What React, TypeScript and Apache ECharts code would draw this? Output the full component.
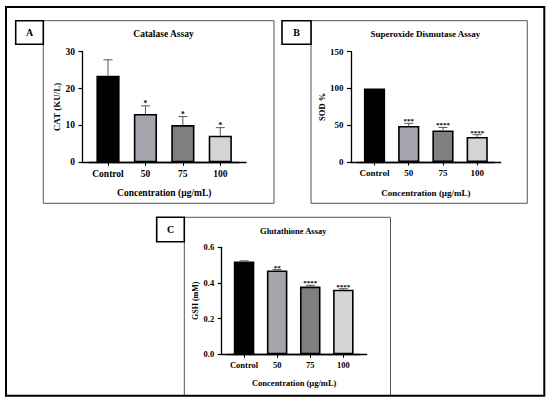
import React, { useEffect, useRef } from "react";
import * as echarts from "echarts";

// ---- data ----
const categories = ["Control", "50", "75", "100"];

const catMean = [23.5, 13.1, 10.1, 7.2];
const catErr = [4.3, 2.2, 2.3, 2.2];
const catStars = ["", "*", "*", "*"];

const sodMean = [100, 49, 43, 34];
const sodErr = [0, 3.6, 4.0, 3.2];
const sodStars = ["", "***", "****", "****"];

const gshMean = [0.52, 0.47, 0.38, 0.362];
const gshErr = [0.004, 0.005, 0.007, 0.006];
const gshStars = ["", "**", "****", "****"];

const catTicks = { min: 0, max: 30, interval: 10 };
const sodTicks = { min: 0, max: 150, interval: 50 };
const gshTicks = { min: 0, max: 0.6, interval: 0.2 };

const titles = ["Catalase Assay", "Superoxide Dismutase Assay", "Glutathione Assay"];
const yNames = ["CAT (KU/L)", "SOD %", "GSH (mM)"];
const xName = "Concentration (\u00b5g/mL)";
const panelLetters = ["A", "B", "C"];

// ---- styles ----
const FONT = "'Liberation Serif', 'Times New Roman', serif";
const barColors = ["#000000", "#a4a4ac", "#7f7f7f", "#d4d4d4"];

const layouts = [
  {
    frame: { left: 82.5, top: 51.7, width: 163.5, height: 110.6 },
    bars: { left: 89.3, width: 149.7 },
    fs: 9.5, starFs: 7.5, yNameGap: 20, xNameGap: 26, labelMargin: 6.5,
    title: { x: 163.5, y: 34 },
    box: { x: 43.3, y: 20.7, w: 230.7, h: 182.6 },
    label: { x: 15.7, y: 20.7, w: 27.6, h: 23.6 },
  },
  {
    frame: { left: 351, top: 51.7, width: 149.7, height: 110.3 },
    bars: { left: 357.4, width: 136.9 },
    fs: 9, starFs: 7, yNameGap: 20, xNameGap: 26, labelMargin: 6.5,
    title: { x: 425.3, y: 34 },
    box: { x: 311, y: 20.7, w: 216.3, h: 182.6 },
    label: { x: 282, y: 20.7, w: 29, h: 23.6 },
  },
  {
    frame: { left: 221.7, top: 247.3, width: 145, height: 107.0 },
    bars: { left: 227.5, width: 132.4 },
    fs: 8.5, starFs: 7, yNameGap: 20, xNameGap: 24.5, labelMargin: 6.5,
    title: { x: 293.3, y: 230.5 },
    box: { x: 184.3, y: 217.3, w: 206.2, h: 178.4 },
    label: { x: 156.7, y: 217.3, w: 27.6, h: 24.4 },
  },
];

const panelData = [
  { mean: catMean, err: catErr, stars: catStars, ticks: catTicks, fmt: (v: number) => String(v) },
  { mean: sodMean, err: sodErr, stars: sodStars, ticks: sodTicks, fmt: (v: number) => String(v) },
  { mean: gshMean, err: gshErr, stars: gshStars, ticks: gshTicks, fmt: (v: number) => v.toFixed(1) },
];

function buildOption() {
  const grid: any[] = [];
  const xAxis: any[] = [];
  const yAxis: any[] = [];
  const series: any[] = [];
  const graphic: any[] = [];

  graphic.push({
    type: "rect",
    shape: { x: 6, y: 7, width: 538.3, height: 388.7 },
    style: { fill: "none", stroke: "#000", lineWidth: 2 },
    z: 10,
  });

  layouts.forEach((L, k) => {
    const D = panelData[k];
    const fi = 2 * k;
    const bi = 2 * k + 1;
    grid.push({ left: L.frame.left, top: L.frame.top, width: L.frame.width, height: L.frame.height });
    grid.push({ left: L.bars.left, top: L.frame.top, width: L.bars.width, height: L.frame.height });

    xAxis.push({
      gridIndex: fi,
      type: "value",
      min: 0,
      max: 1,
      axisLine: { show: true, lineStyle: { color: "#000", width: 1.3 } },
      axisTick: { show: false },
      axisLabel: { show: false },
      splitLine: { show: false },
      name: xName,
      nameLocation: "middle",
      nameGap: L.xNameGap,
      nameTextStyle: { fontFamily: FONT, fontWeight: "bold", fontSize: L.fs, color: "#000" },
    });
    xAxis.push({
      gridIndex: bi,
      type: "category",
      data: categories,
      axisLine: { show: true, lineStyle: { color: "#000", width: 1.3 } },
      axisTick: { show: true, interval: 0, alignWithLabel: true, length: 3.5, lineStyle: { color: "#000", width: 1 } },
      axisLabel: {
        interval: 0, hideOverlap: false,
        fontFamily: FONT, fontWeight: "bold", fontSize: L.fs, color: "#000", margin: L.labelMargin,
      },
      splitLine: { show: false },
    });

    yAxis.push({
      gridIndex: fi,
      type: "value",
      min: D.ticks.min,
      max: D.ticks.max,
      interval: D.ticks.interval,
      axisLine: { show: true, lineStyle: { color: "#000", width: 1.3 } },
      axisTick: { show: true, length: 4, lineStyle: { color: "#000", width: 1.2 } },
      axisLabel: {
        fontFamily: FONT, fontWeight: "bold", fontSize: L.fs, color: "#000", margin: 7.5,
        formatter: D.fmt,
      },
      splitLine: { show: false },
      name: yNames[k],
      nameLocation: "middle",
      nameRotate: 90,
      nameGap: L.yNameGap,
      nameTextStyle: { fontFamily: FONT, fontWeight: "bold", fontSize: L.fs - 0.5, color: "#000" },
    });
    yAxis.push({
      gridIndex: bi,
      type: "value",
      min: D.ticks.min,
      max: D.ticks.max,
      show: false,
    });

    series.push({
      type: "bar",
      xAxisIndex: bi,
      yAxisIndex: bi,
      barWidth: "62%",
      data: D.mean.map((v, i) => ({
        value: v,
        itemStyle: { color: barColors[i], borderColor: "#000", borderWidth: 1.6 },
      })),
      z: 2,
    });

    const stars = D.stars;
    const starFs = L.starFs;
    series.push({
      type: "custom",
      xAxisIndex: bi,
      yAxisIndex: bi,
      data: D.mean.map((m, i) => [i, m, m + D.err[i]]),
      z: 3,
      renderItem: (params: any, api: any) => {
        const i = api.value(0);
        const p0 = api.coord([i, api.value(1)]);
        const p1 = api.coord([i, api.value(2)]);
        const cap = 4.5;
        const children: any[] = [];
        if (api.value(2) > api.value(1)) {
          children.push({
            type: "line",
            shape: { x1: p0[0], y1: p0[1], x2: p1[0], y2: p1[1] },
            style: { stroke: "#555", lineWidth: 1 },
          });
          children.push({
            type: "line",
            shape: { x1: p1[0] - cap, y1: p1[1], x2: p1[0] + cap, y2: p1[1] },
            style: { stroke: "#555", lineWidth: 1 },
          });
        }
        const s = stars[params.dataIndex];
        if (s) {
          children.push({
            type: "text",
            x: p1[0],
            y: p1[1] - 2,
            style: {
              text: s, fontSize: starFs, fontWeight: "bold", fontFamily: FONT,
              fill: "#000", align: "center", verticalAlign: "middle",
            },
          });
        }
        return { type: "group", children };
      },
    });

    graphic.push({
      type: "rect",
      shape: { x: L.box.x, y: L.box.y, width: L.box.w, height: L.box.h },
      style: { fill: "none", stroke: "#555", lineWidth: 1 },
      z: 5,
    });
    graphic.push({
      type: "rect",
      shape: { x: L.label.x, y: L.label.y, width: L.label.w, height: L.label.h },
      style: { fill: "#fff", stroke: "#000", lineWidth: 1.6 },
      z: 6,
    });
    graphic.push({
      type: "text",
      x: L.label.x + L.label.w / 2,
      y: L.label.y + L.label.h / 2,
      style: {
        text: panelLetters[k], fontFamily: FONT, fontWeight: "bold", fontSize: 10,
        fill: "#000", align: "center", verticalAlign: "middle",
      },
      z: 7,
    });
    graphic.push({
      type: "text",
      x: L.title.x,
      y: L.title.y,
      style: {
        text: titles[k], fontFamily: FONT, fontWeight: "bold", fontSize: L.fs,
        fill: "#000", align: "center", verticalAlign: "middle",
      },
      z: 7,
    });
  });

  return {
    animation: false,
    backgroundColor: "#fff",
    grid,
    xAxis,
    yAxis,
    series,
    graphic,
  };
}

export default function App() {
  const ref = useRef<HTMLDivElement>(null);
  useEffect(() => {
    if (!ref.current) return;
    const chart = echarts.init(ref.current, undefined, { renderer: "svg" });
    chart.setOption(buildOption() as any);
    return () => chart.dispose();
  }, []);
  return (
    <div
      ref={ref}
      style={{ position: "absolute", left: 0, top: 0, width: 550, height: 402 }}
    />
  );
}
